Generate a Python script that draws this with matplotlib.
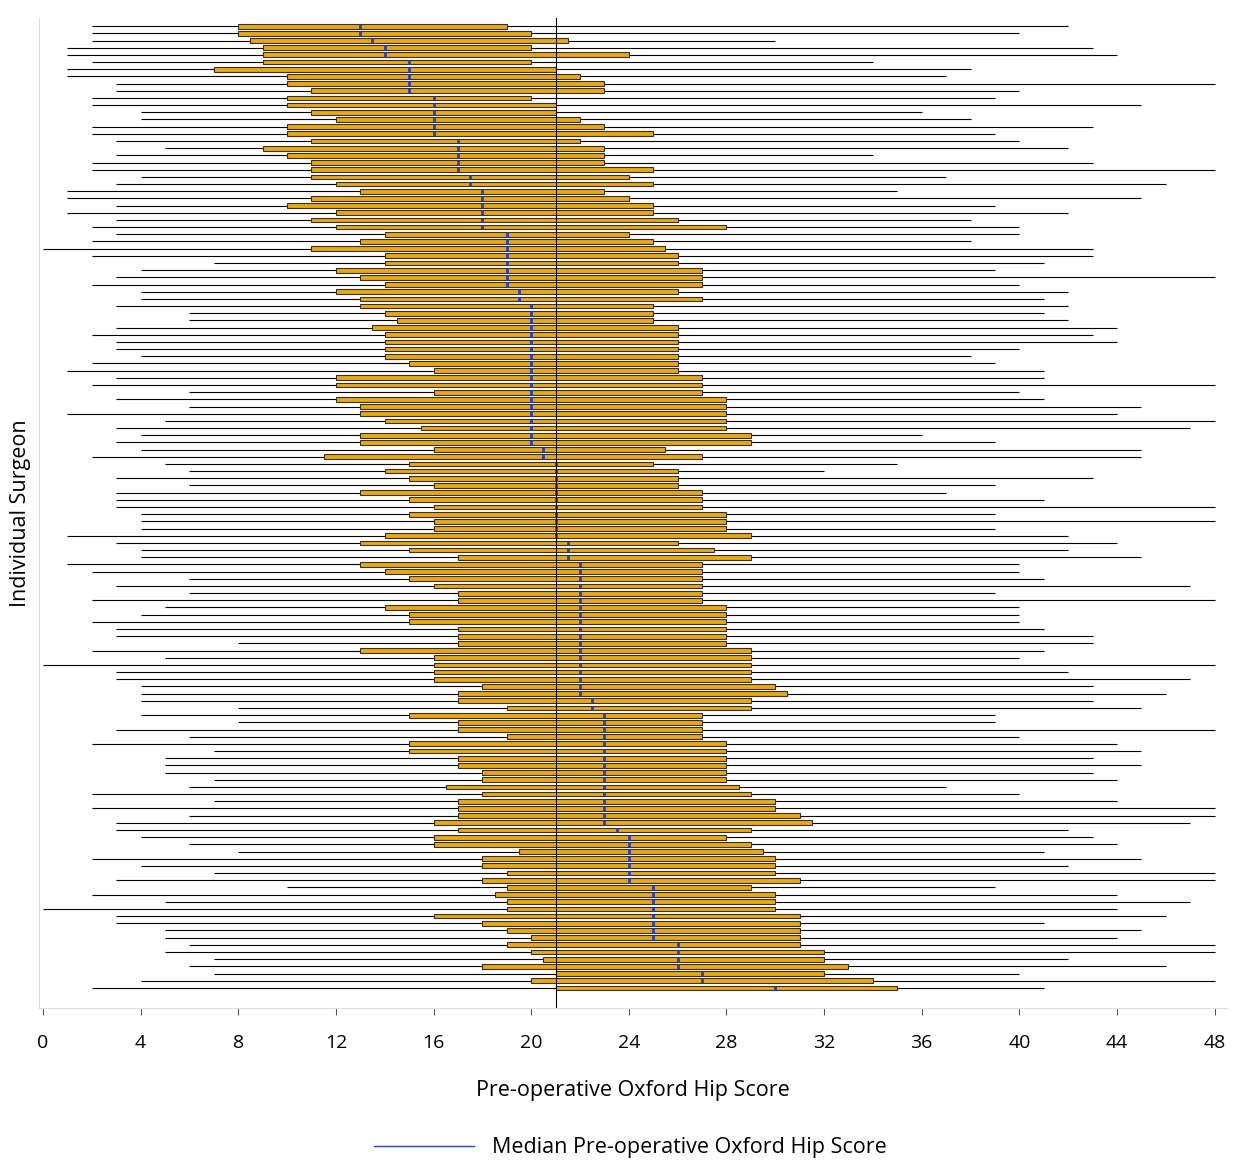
import matplotlib

matplotlib.use("Agg")

import matplotlib.pyplot as plt
import numpy as np
from matplotlib.lines import Line2D

plt.rcParams["font.family"] = ["Open Sans", "DejaVu Sans"]

# per-surgeon summary of pre-operative OHS: min, q1, median, q3, max
lo = [2, 2, 2, 1, 1, 2, 1, 1, 3, 3, 2, 2, 4, 4, 2, 2, 3, 5, 3, 2,
      2, 4, 3, 1, 1, 3, 1, 3, 2, 3, 2, 0, 2, 7, 4, 3, 2, 4, 4, 3,
      6, 6, 3, 2, 3, 3, 4, 2, 1, 3, 2, 6, 3, 6, 1, 5, 3, 4, 3, 4,
      2, 5, 6, 3, 6, 3, 3, 3, 4, 4, 4, 1, 3, 4, 4, 1, 2, 6, 3, 6,
      2, 5, 4, 2, 3, 3, 8, 2, 5, 0, 3, 3, 4, 4, 4, 8, 4, 8, 3, 6,
      2, 7, 5, 5, 5, 7, 6, 2, 7, 2, 6, 3, 3, 4, 6, 8, 2, 4, 7, 3,
      10, 2, 5, 0, 3, 3, 5, 5, 6, 5, 7, 6, 7, 4, 2]
q1 = [8, 8, 8.5, 9, 9, 9, 7, 10, 10, 11, 10, 10, 11, 12, 10, 10, 11, 9, 10, 11,
      11, 11, 12, 13, 11, 10, 12, 11, 12, 14, 13, 11, 14, 14, 12, 13, 14, 12, 13, 13,
      14, 14.5, 13.5, 14, 14, 14, 14, 15, 16, 12, 12, 16, 12, 13, 13, 14, 15.5, 13, 13, 16,
      11.5, 15, 14, 15, 16, 13, 15, 16, 15, 16, 16, 14, 13, 15, 17, 13, 14, 15, 16, 17,
      17, 14, 15, 15, 17, 17, 17, 13, 16, 16, 16, 16, 18, 17, 17, 19, 15, 17, 17, 19,
      15, 15, 17, 17, 18, 18, 16.5, 18, 17, 17, 17, 16, 17, 16, 16, 19.5, 18, 18, 19, 18,
      19, 18.5, 19, 19, 16, 18, 19, 20, 19, 20, 20.5, 18, 21, 20, 21]
med = [13, 13, 13.5, 14, 14, 15, 15, 15, 15, 15, 16, 16, 16, 16, 16, 16, 17, 17, 17, 17,
       17, 17.5, 17.5, 18, 18, 18, 18, 18, 18, 19, 19, 19, 19, 19, 19, 19, 19, 19.5, 19.5, 20,
       20, 20, 20, 20, 20, 20, 20, 20, 20, 20, 20, 20, 20, 20, 20, 20, 20, 20, 20, 20.5,
       20.5, 21, 21, 21, 21, 21, 21, 21, 21, 21, 21, 21, 21.5, 21.5, 21.5, 22, 22, 22, 22, 22,
       22, 22, 22, 22, 22, 22, 22, 22, 22, 22, 22, 22, 22, 22, 22.5, 22.5, 23, 23, 23, 23,
       23, 23, 23, 23, 23, 23, 23, 23, 23, 23, 23, 23, 23.5, 24, 24, 24, 24, 24, 24, 24,
       25, 25, 25, 25, 25, 25, 25, 25, 26, 26, 26, 26, 27, 27, 30]
q3 = [19, 20, 21.5, 20, 24, 20, 21, 22, 23, 23, 20, 21, 21, 22, 23, 25, 22, 23, 23, 23,
      25, 24, 25, 23, 24, 25, 25, 26, 28, 24, 25, 25.5, 26, 26, 27, 27, 27, 26, 27, 25,
      25, 25, 26, 26, 26, 26, 26, 26, 26, 27, 27, 27, 28, 28, 28, 28, 28, 29, 29, 25.5,
      27, 25, 26, 26, 26, 27, 27, 27, 28, 28, 28, 29, 26, 27.5, 29, 27, 27, 27, 27, 27,
      27, 28, 28, 28, 28, 28, 28, 29, 29, 29, 29, 29, 30, 30.5, 29, 29, 27, 27, 27, 27,
      28, 28, 28, 28, 28, 28, 28.5, 29, 30, 30, 31, 31.5, 29, 28, 29, 29.5, 30, 30, 30, 31,
      29, 30, 30, 30, 31, 31, 31, 31, 31, 32, 32, 33, 32, 34, 35]
hi = [42, 40, 30, 43, 44, 34, 38, 37, 48, 40, 39, 45, 36, 38, 43, 39, 40, 42, 34, 43,
      48, 37, 46, 35, 45, 39, 42, 38, 40, 40, 38, 43, 43, 41, 39, 48, 40, 42, 41, 42,
      41, 42, 44, 43, 44, 40, 38, 39, 41, 41, 48, 40, 41, 45, 44, 48, 47, 36, 39, 45,
      45, 35, 32, 43, 39, 37, 41, 48, 39, 48, 39, 42, 44, 42, 45, 40, 40, 41, 47, 39,
      48, 40, 40, 40, 41, 43, 43, 41, 40, 48, 42, 47, 43, 46, 43, 45, 39, 39, 48, 40,
      44, 45, 43, 45, 43, 44, 37, 40, 44, 48, 48, 47, 42, 43, 44, 41, 45, 42, 48, 48,
      39, 44, 47, 44, 46, 41, 45, 44, 48, 48, 42, 46, 40, 48, 41]

overall_median = 21
x_ticks = list(range(0, 49, 4))

BOX_COLOR = "#e6a817"
MEDIAN_COLOR = "#2340c8"


def main():
    lo_a, q1_a, med_a, q3_a, hi_a = map(np.array, (lo, q1, med, q3, hi))
    y = np.arange(len(med_a))

    fig = plt.figure(figsize=(12.36, 11.63), dpi=100)
    ax = fig.add_axes([0.0316, 0.1333, 0.961, 0.851])

    ax.hlines(y, lo_a, hi_a, color="black", lw=0.8, zorder=1)
    ax.barh(y, q3_a - q1_a, left=q1_a, height=0.66, color=BOX_COLOR,
            edgecolor="#3a3020", linewidth=0.8, zorder=2)
    ax.vlines(med_a, y - 0.33, y + 0.33, color=MEDIAN_COLOR, lw=2, zorder=3)
    ax.axvline(overall_median, color="black", lw=0.8, zorder=4)

    ax.set_xlim(-0.16, 48.5)
    ax.set_ylim(136.8, -1.1)
    ax.set_xticks(x_ticks)
    ax.tick_params(axis="x", labelsize=14, length=5, color="#555555", pad=14)
    ax.set_yticks([])
    for side in ["top", "right"]:
        ax.spines[side].set_visible(False)
    ax.spines["left"].set_color("#dddddd")
    ax.spines["bottom"].set_color("#dddddd")

    ax.set_xlabel("Pre-operative Oxford Hip Score", fontsize=15.5, labelpad=20)
    ax.set_ylabel("Individual Surgeon", fontsize=15.5, labelpad=6)

    handle = Line2D([], [], color=MEDIAN_COLOR, lw=1)
    fig.legend([handle], ["Median Pre-operative Oxford Hip Score"],
               loc="center", bbox_to_anchor=(0.51, 0.013), frameon=False,
               fontsize=15.5, handlelength=4.65, handletextpad=0.85)

    fig.savefig("out.png", dpi=100)
    plt.close(fig)


if __name__ == "__main__":
    main()
